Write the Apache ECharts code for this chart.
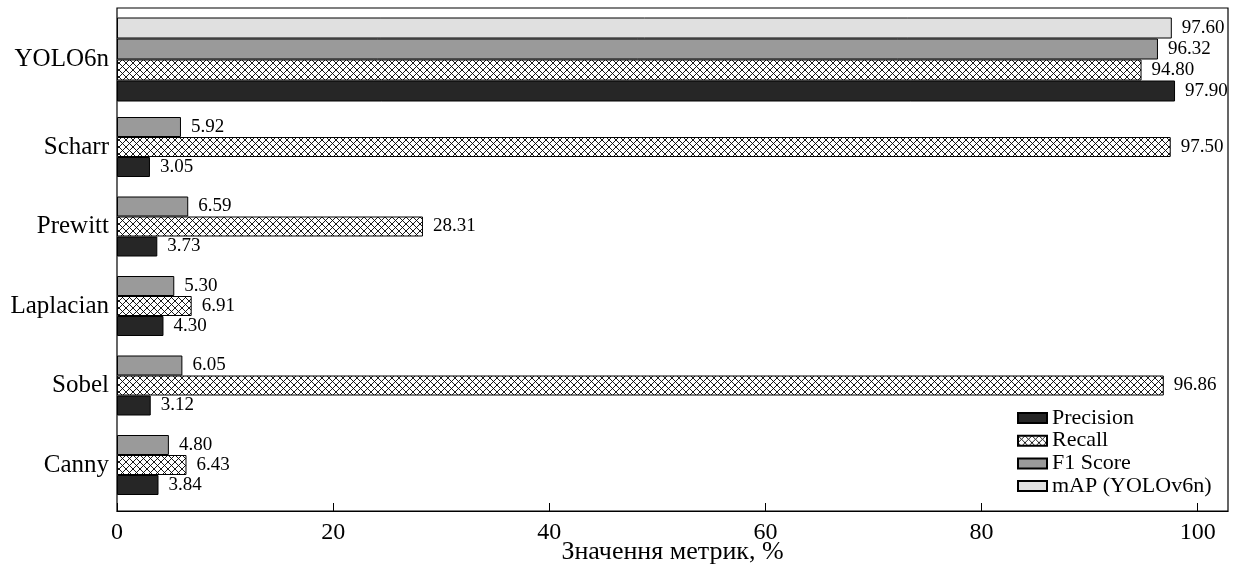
<!DOCTYPE html>
<html>
<head>
<meta charset="utf-8">
<script src="https://cdn.jsdelivr.net/npm/echarts@6/dist/echarts.min.js"></script>
<style>html,body{margin:0;padding:0;background:#fff}#c{width:1235px;height:570px}</style>
</head>
<body>
<div id="c"></div>
<script>
// ---- data ----
const methods = ['Canny', 'Sobel', 'Laplacian', 'Prewitt', 'Scharr'];
const yoloCat = ['YOLO6n'];
const precision = [3.84, 3.12, 4.30, 3.73, 3.05];
const recall = [6.43, 96.86, 6.91, 28.31, 97.50];
const f1 = [4.80, 6.05, 5.30, 6.59, 5.92];
const yoloPrecision = [97.90];
const yoloRecall = [94.80];
const yoloF1 = [96.32];
const yoloMap = [97.60];
const xTicks = [0, 20, 40, 60, 80, 100];
const seriesNames = ['Precision', 'Recall', 'F1 Score', 'mAP (YOLOv6n)'];

// ---- styling ----
const FONT = '"Liberation Serif", "DejaVu Serif", serif';
function hatch() {
  const s = 7;
  const cv = document.createElement('canvas');
  cv.width = s; cv.height = s;
  const g = cv.getContext('2d');
  g.fillStyle = '#fff'; g.fillRect(0, 0, s, s);
  g.strokeStyle = '#000'; g.lineWidth = 0.9;
  g.beginPath();
  g.moveTo(-1, -1); g.lineTo(s + 1, s + 1);
  g.moveTo(-1, s + 1); g.lineTo(s + 1, -1);
  g.stroke();
  return cv;
}
const hatchPat = { image: hatch(), repeat: 'repeat' };
const colors = {
  'Precision': '#262626',
  'Recall': hatchPat,
  'F1 Score': '#9a9a9a',
  'mAP (YOLOv6n)': '#e0e0e0'
};
const XMAX = 102.8;

function mkSeries(name, data, axisIdx, bw) {
  return {
    name: name, type: 'bar', data: data,
    xAxisIndex: axisIdx, yAxisIndex: axisIdx,
    barWidth: bw, barGap: '0%',
    itemStyle: { color: colors[name], borderColor: '#000', borderWidth: 1 },
    label: {
      show: true, position: 'right', distance: 10,
      formatter: p => p.value.toFixed(2),
      fontFamily: FONT, fontSize: 19, color: '#000'
    },
    emphasis: { disabled: true },
    animation: false
  };
}

const hiddenX = (gi) => ({ gridIndex: gi, type: 'value', min: 0, max: XMAX, show: false });

const option = {
  animation: false,
  backgroundColor: '#fff',
  grid: [
    { left: 117, right: 7, top: 8, bottom: 59, outerBoundsMode: 'none', containLabel: false,
      show: true, borderColor: '#000', borderWidth: 1.2, backgroundColor: 'transparent' },
    { left: 117, right: 7, top: 107.25, height: 397.5, outerBoundsMode: 'none', containLabel: false },
    { left: 117, right: 7, top: 17.5, height: 84, outerBoundsMode: 'none', containLabel: false }
  ],
  xAxis: [
    {
      gridIndex: 0, type: 'value', min: 0, max: XMAX, interval: 20,
      name: 'Значення метрик, %', nameLocation: 'middle', nameGap: 28, nameMoveOverlap: false,
      nameTextStyle: { fontFamily: FONT, fontSize: 26, color: '#000' },
      axisLine: { show: true, lineStyle: { color: '#000', width: 1.2 } },
      axisTick: { show: true, inside: true, length: 8, lineStyle: { color: '#000', width: 1 },
        customValues: xTicks },
      axisLabel: { fontFamily: FONT, fontSize: 24, color: '#000', margin: 10,
        customValues: xTicks, formatter: v => String(v) },
      splitLine: { show: false }
    },
    hiddenX(1),
    hiddenX(2)
  ],
  yAxis: [
    { gridIndex: 0, type: 'value', min: 0, max: 1, show: false },
    {
      gridIndex: 1, type: 'category', data: methods,
      axisLine: { show: false }, axisTick: { show: false },
      axisLabel: { fontFamily: FONT, fontSize: 25, color: '#000', margin: 8 }
    },
    {
      gridIndex: 2, type: 'category', data: yoloCat,
      axisLine: { show: false }, axisTick: { show: false },
      axisLabel: { fontFamily: FONT, fontSize: 25, color: '#000', margin: 8 }
    }
  ],
  legend: {
    data: seriesNames, orient: 'vertical', left: 1017, top: 407, padding: 0,
    itemWidth: 29, itemHeight: 10, itemGap: 0.7,
    icon: 'rect',
    textStyle: { fontFamily: FONT, fontSize: 22, lineHeight: 22, color: '#000' },
    selectedMode: false
  },
  series: [
    mkSeries('F1 Score', f1, 1, 20),
    mkSeries('Recall', recall, 1, 20),
    mkSeries('Precision', precision, 1, 20),
    mkSeries('mAP (YOLOv6n)', yoloMap, 2, 21),
    mkSeries('F1 Score', yoloF1, 2, 21),
    mkSeries('Recall', yoloRecall, 2, 21),
    mkSeries('Precision', yoloPrecision, 2, 21)
  ]
};
const chart = echarts.init(document.getElementById('c'), null, { renderer: 'canvas' });
chart.setOption(option);
</script>
</body>
</html>
